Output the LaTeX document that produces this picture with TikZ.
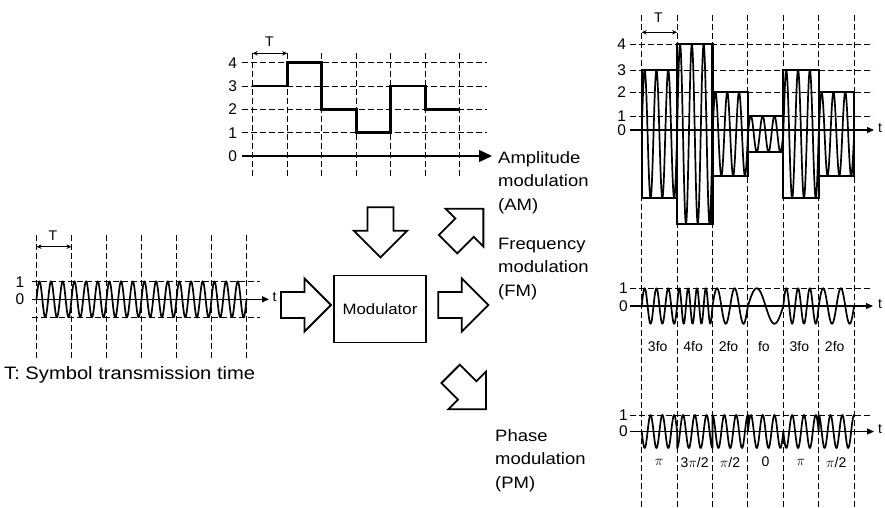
\documentclass[tikz,border=0pt]{standalone}
\usepackage{fontspec}
\setmainfont{Liberation Sans}
\newfontfamily\lblfont{Liberation Sans}[FakeStretch=1.12]
\usetikzlibrary{arrows.meta}
\tikzset{
  gridline/.style={line width=0.9pt, dash pattern=on 6pt off 3pt},
  axisline/.style={line width=1.2pt},
  sigline/.style={line width=2.6pt, line join=miter},
  envline/.style={line width=2.2pt, line join=miter},
  waveline/.style={line width=1.7pt, line join=round},
  barr/.style={line width=1.8pt, line join=miter, fill=white},
  ticklbl/.style={font=\fontsize{15.5}{15.5}\selectfont, inner sep=0pt},
  smalllbl/.style={font=\fontsize{14}{14}\selectfont, inner sep=0pt},
  mlabel/.style={font=\lblfont\fontsize{16.5}{16.5}\selectfont, anchor=base west, inner sep=0pt},
  tarrow/.style={line width=1pt, {Stealth[length=5pt,width=4.5pt]}-{Stealth[length=5pt,width=4.5pt]}},
  axarrow/.style={axisline, -{Triangle[length=7pt,width=6pt]}},
  blockarr/.pic={\draw[barr] (0,-13) -- (23.4,-13) -- (23.4,-26.6) -- (50,0) -- (23.4,26.6) -- (23.4,13) -- (0,13) -- cycle;}
}
\begin{document}
\begin{tikzpicture}[x=1pt,y=-1pt]
\useasboundingbox (0,0) rectangle (885,508);

% ---------------- top middle: data signal ----------------
\foreach \i in {0,...,6} \draw[gridline] ({252.7+34.5*\i},53) -- ({252.7+34.5*\i},178);
\foreach \L in {1,...,4} \draw[gridline] (241.7,{156-23.3*\L}) -- (486.7,{156-23.3*\L});
\draw[axisline,-{Triangle[length=13pt,width=12pt]}] (241.7,156) -- (492,156);
\foreach \L in {0,...,4} \node[ticklbl] (dl\L) at (232.7,{156-23.3*\L}) {\L};
\draw[tarrow] (252.7,53.3) -- (287.2,53.3);
\node[smalllbl] (dT) at (269.3,41.7) {T};
\draw[sigline] (252.7,86.1) -- (287.2,86.1) -- (287.2,62.8) -- (321.7,62.8) -- (321.7,109.4)
  -- (356.2,109.4) -- (356.2,132.7) -- (390.7,132.7) -- (390.7,86.1) -- (425.2,86.1)
  -- (425.2,109.4) -- (459.7,109.4);

% ---------------- left: carrier ----------------
\foreach \i in {0,...,6} \draw[gridline] ({36.5+35*\i},235) -- ({36.5+35*\i},360);
\draw[gridline] (31.7,281.7) -- (260,281.7);
\draw[gridline] (31.7,317.3) -- (260,317.3);
\draw[axarrow] (31.7,299.3) -- (269,299.3);
\node[smalllbl] (ct) at (274.5,297.5) {t};
\node[ticklbl] (c1) at (20,281.7) {1};
\node[ticklbl] (c0) at (20,299.3) {0};
\draw[tarrow] (36.5,246.7) -- (71.5,246.7);
\node[smalllbl] (cT) at (53,236) {T};
\draw[waveline] plot[domain=0:210, samples=500] ({36.5+\x},{299.3-18*sin(\x/35*1080)});
\node[font=\lblfont\fontsize{18}{18}\selectfont, anchor=base west, inner sep=0pt] (caption) at (4,379) {T: Symbol transmission time};

% ---------------- modulator and block arrows ----------------
\node[draw, line width=1.8pt, minimum width=92pt, minimum height=67pt, inner sep=0pt,
      font=\lblfont\fontsize{15}{15}\selectfont] (mod) at (380,309) {Modulator};
\pic at (281,305) {blockarr};
\pic[rotate=-90] at (380.5,207.3) {blockarr};
\pic at (438.3,305) {blockarr};
\pic[rotate=45] at (448,244.2) {blockarr};
\pic[rotate=-45] at (450.6,373.9) {blockarr};

% ---------------- labels ----------------
\node[mlabel] (am1) at (498,163) {Amplitude};
\node[mlabel] (am2) at (498,186.5) {modulation};
\node[mlabel] (am3) at (498,210) {(AM)};
\node[mlabel] (fm1) at (498,249) {Frequency};
\node[mlabel] (fm2) at (498,272.5) {modulation};
\node[mlabel] (fm3) at (498,296) {(FM)};
\node[mlabel] (pm1) at (495,441) {Phase};
\node[mlabel] (pm2) at (495,464.5) {modulation};
\node[mlabel] (pm3) at (495,488) {(PM)};

% ---------------- right: grid ----------------
\foreach \i in {0,...,6} \draw[gridline] ({641.7+35.4*\i},15) -- ({641.7+35.4*\i},508);
\draw[tarrow] (641.7,32.3) -- (677.1,32.3);
\node[smalllbl] (rT) at (658.3,17.5) {T};

% AM
\foreach \y in {44.3,70,92.3,116} \draw[gridline] (630,\y) -- (873,\y);
\draw[axarrow] (630,130) -- (874,130);
\node[smalllbl] (amt) at (880,128) {t};
\node[ticklbl] (a4) at (621.7,44.3) {4};
\node[ticklbl] (a3) at (621.7,70) {3};
\node[ticklbl] (a2) at (621.7,92.3) {2};
\node[ticklbl] (a1) at (621.7,116) {1};
\node[ticklbl] (a0) at (621.7,130.5) {0};
\foreach \A [count=\k from 0] in {64,89.7,41.7,18,64,41.7}
  \draw[waveline] plot[domain=0:35.4, samples=150] ({641.7+35.4*\k+\x},{134-\A*sin(\x/35.4*1080)});
\foreach \A [count=\k from 0] in {64,89.7,41.7,18,64,41.7}
  \draw[envline] ({641.7+35.4*\k},{134-\A}) rectangle ({641.7+35.4*(\k+1)},{134+\A});

% FM
\draw[gridline] (630,288.3) -- (870,288.3);
\draw[axarrow] (630,306) -- (873,306);
\node[smalllbl] (fmt) at (880,304) {t};
\node[ticklbl] (f1) at (623.3,288.3) {1};
\node[ticklbl] (f0) at (623.3,306) {0};
\foreach \n [count=\k from 0] in {3,4,2,1,3,2}
  \draw[waveline] plot[domain=0:35.4, samples=150] ({641.7+35.4*\k+\x},{306-17.7*sin(\x/35.4*360*\n)});
\foreach \t [count=\k from 0] in {3fo,4fo,2fo,fo,3fo,2fo}
  \node[smalllbl] (fl\k) at ({641.7+35.4*\k+16},346.7) {\t};

% PM
\draw[gridline] (630,415) -- (872,415);
\draw[axarrow] (630,431.5) -- (874,431.5);
\node[smalllbl] (pmt) at (880,429.5) {t};
\node[ticklbl] (p1) at (623.3,415) {1};
\node[ticklbl] (p0) at (623.3,431.5) {0};
\draw[waveline]
  plot[domain=0:35.4, samples=120] ({641.7+\x},{431.5-16.5*sin(\x/35.4*1080+180)})
  -- plot[domain=35.4:70.8, samples=120] ({641.7+\x},{431.5-16.5*sin(\x/35.4*1080+270)})
  -- plot[domain=70.8:106.2, samples=120] ({641.7+\x},{431.5-16.5*sin(\x/35.4*1080+90)})
  -- plot[domain=106.2:141.6, samples=120] ({641.7+\x},{431.5-16.5*sin(\x/35.4*1080)})
  -- plot[domain=141.6:177, samples=120] ({641.7+\x},{431.5-16.5*sin(\x/35.4*1080+180)})
  -- plot[domain=177:212.4, samples=120] ({641.7+\x},{431.5-16.5*sin(\x/35.4*1080+90)});
\foreach \t [count=\k from 0] in {$\pi$,3$\pi$/2,$\pi$/2,0,$\pi$,$\pi$/2}
  \node[smalllbl] (ph\k) at ({641.7+35.4*\k+17.5},462) {\t};
\end{tikzpicture}
\end{document}
